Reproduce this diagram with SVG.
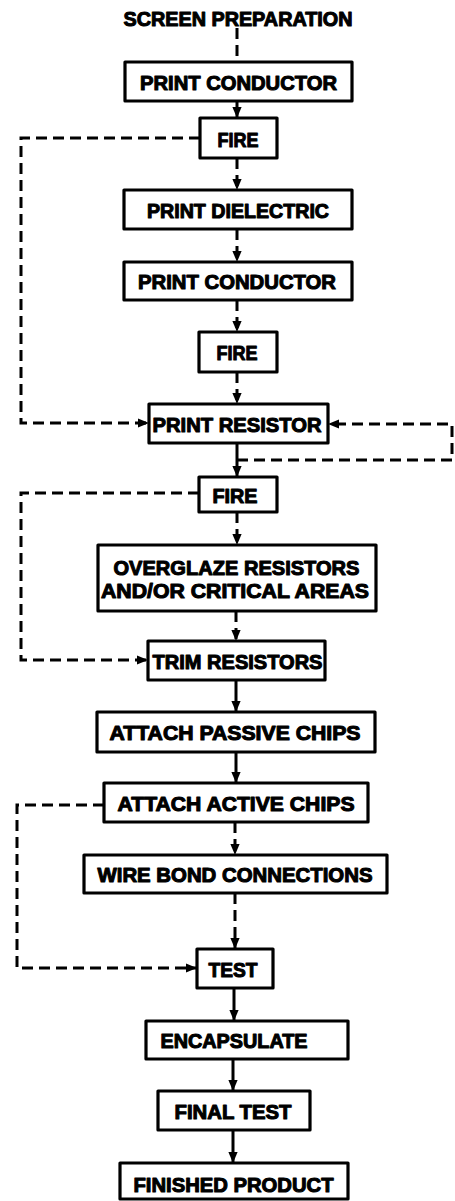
<svg xmlns="http://www.w3.org/2000/svg" width="455" height="1201" viewBox="0 0 455 1201">
<style>
.box{fill:#fff;stroke:#000;stroke-width:3.2;stroke-linejoin:round}
.t{font-family:"Liberation Sans",Arial,sans-serif;font-weight:bold;font-size:21px;fill:#000;stroke:#000;stroke-width:1.1;stroke-linejoin:round;text-anchor:middle}
.c{fill:none;stroke:#000;stroke-width:3}
.d{stroke-dasharray:11,6}
</style>
<defs>
<marker id="ah" markerUnits="userSpaceOnUse" markerWidth="11" markerHeight="11" viewBox="0 0 10 10" refX="10" refY="5" orient="auto">
<path d="M0,0.8 L10,5 L0,9.2 Z" fill="#000"/>
</marker>
</defs>
<rect width="455" height="1201" fill="#fff"/>
<g id="connectors">
<path class="c d" d="M237,28 V62"/>
<path class="c" d="M237,101 V118" marker-end="url(#ah)"/>
<path class="c d" d="M237,158 V190" marker-end="url(#ah)"/>
<path class="c d" d="M237,229 V262" marker-end="url(#ah)"/>
<path class="c d" d="M237,300 V332" marker-end="url(#ah)"/>
<path class="c d" d="M237,372 V404" marker-end="url(#ah)"/>
<path class="c d" d="M200,138 H21 V423 H149" marker-end="url(#ah)"/>
<path class="c d" d="M237,460 H452 V424 H328" marker-end="url(#ah)"/>
<path class="c" d="M237,443 V477" marker-end="url(#ah)"/>
<path class="c d" d="M237,512 V545" marker-end="url(#ah)"/>
<path class="c d" d="M199,493 H21 V660 H148" marker-end="url(#ah)"/>
<path class="c d" d="M236,611 V641" marker-end="url(#ah)"/>
<path class="c" d="M236,680 V712" marker-end="url(#ah)"/>
<path class="c" d="M236,752 V783" marker-end="url(#ah)"/>
<path class="c d" d="M104,805 H17 V968 H197" marker-end="url(#ah)"/>
<path class="c d" d="M235,822 V855" marker-end="url(#ah)"/>
<path class="c d" d="M235,893 V949" marker-end="url(#ah)"/>
<path class="c" d="M234,988 V1021" marker-end="url(#ah)"/>
<path class="c" d="M233,1059 V1091" marker-end="url(#ah)"/>
<path class="c" d="M233,1130 V1163" marker-end="url(#ah)"/>
</g>
<g id="screen-preparation"><text class="t" x="238" y="26" textLength="229" lengthAdjust="spacingAndGlyphs">SCREEN PREPARATION</text></g>
<g id="print-conductor-1"><rect class="box" x="125" y="62" width="227" height="39"/><text class="t" x="238.5" y="90" textLength="197" lengthAdjust="spacingAndGlyphs">PRINT CONDUCTOR</text></g>
<g id="fire-1"><rect class="box" x="200" y="118" width="77" height="40"/><text class="t" x="238" y="147" textLength="41" lengthAdjust="spacingAndGlyphs">FIRE</text></g>
<g id="print-dielectric"><rect class="box" x="124" y="190" width="228" height="39"/><text class="t" x="238" y="218" textLength="182" lengthAdjust="spacingAndGlyphs">PRINT DIELECTRIC</text></g>
<g id="print-conductor-2"><rect class="box" x="124" y="262" width="228" height="38"/><text class="t" x="237" y="289" textLength="198" lengthAdjust="spacingAndGlyphs">PRINT CONDUCTOR</text></g>
<g id="fire-2"><rect class="box" x="199" y="332" width="78" height="40"/><text class="t" x="237" y="360" textLength="41" lengthAdjust="spacingAndGlyphs">FIRE</text></g>
<g id="print-resistor"><rect class="box" x="149" y="404" width="179" height="39"/><text class="t" x="237" y="432" textLength="169" lengthAdjust="spacingAndGlyphs">PRINT RESISTOR</text></g>
<g id="fire-3"><rect class="box" x="199" y="477" width="78" height="35"/><text class="t" x="235" y="503" textLength="45" lengthAdjust="spacingAndGlyphs">FIRE</text></g>
<g id="overglaze"><rect class="box" x="98" y="545" width="278" height="66"/><text class="t" x="236.5" y="575" textLength="246" lengthAdjust="spacingAndGlyphs">OVERGLAZE RESISTORS</text><text class="t" x="235" y="598" textLength="268" lengthAdjust="spacingAndGlyphs">AND/OR CRITICAL AREAS</text></g>
<g id="trim-resistors"><rect class="box" x="148" y="641" width="177" height="39"/><text class="t" x="237.5" y="669" textLength="170" lengthAdjust="spacingAndGlyphs">TRIM RESISTORS</text></g>
<g id="attach-passive"><rect class="box" x="97" y="712" width="278" height="40"/><text class="t" x="235" y="740" textLength="251" lengthAdjust="spacingAndGlyphs">ATTACH PASSIVE CHIPS</text></g>
<g id="attach-active"><rect class="box" x="104" y="783" width="264" height="39"/><text class="t" x="236" y="811" textLength="237" lengthAdjust="spacingAndGlyphs">ATTACH ACTIVE CHIPS</text></g>
<g id="wire-bond"><rect class="box" x="84" y="855" width="303" height="38"/><text class="t" x="235" y="882" textLength="275" lengthAdjust="spacingAndGlyphs">WIRE BOND CONNECTIONS</text></g>
<g id="test"><rect class="box" x="197" y="949" width="76" height="39"/><text class="t" x="233" y="977" textLength="49" lengthAdjust="spacingAndGlyphs">TEST</text></g>
<g id="encapsulate"><rect class="box" x="146" y="1021" width="202" height="38"/><text class="t" x="234" y="1048" textLength="147" lengthAdjust="spacingAndGlyphs">ENCAPSULATE</text></g>
<g id="final-test"><rect class="box" x="158" y="1091" width="152" height="39"/><text class="t" x="233" y="1119" textLength="117" lengthAdjust="spacingAndGlyphs">FINAL TEST</text></g>
<g id="finished-product"><rect class="box" x="120" y="1163" width="228" height="36"/><text class="t" x="233.5" y="1192" textLength="200" lengthAdjust="spacingAndGlyphs">FINISHED PRODUCT</text></g>
</svg>
